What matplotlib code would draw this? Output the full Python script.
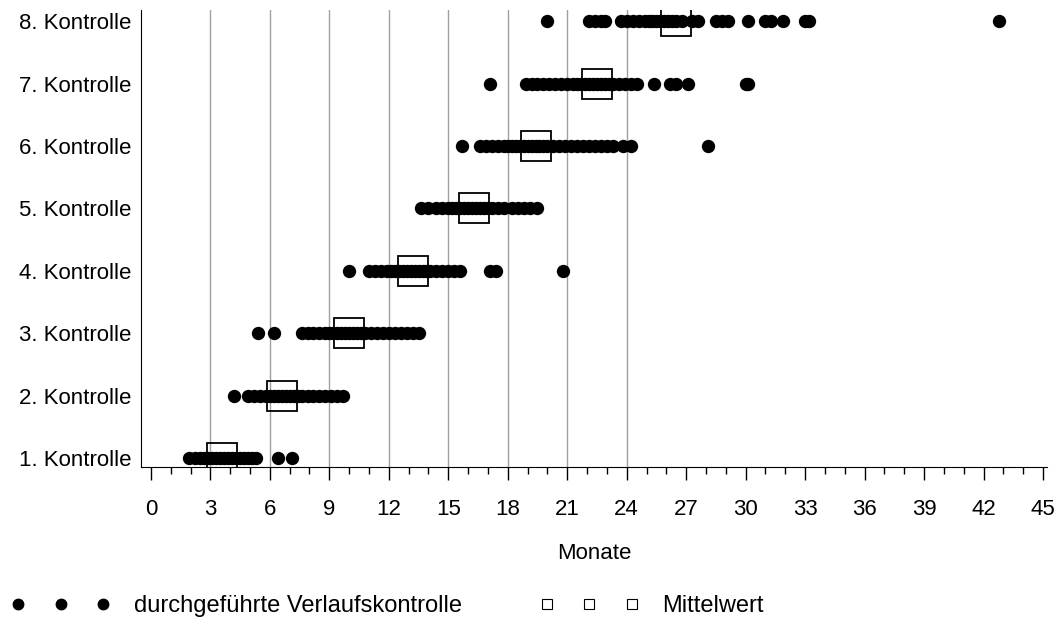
import numpy as np
import matplotlib
matplotlib.use("Agg")
import matplotlib.pyplot as plt
from matplotlib.lines import Line2D

plt.rcParams['font.family'] = ['Liberation Sans', 'DejaVu Sans']

# Monate bis zur jeweiligen Verlaufskontrolle
kontrolle_1 = [1.9, 2.2, 2.5, 2.7, 2.9, 3.1, 3.3, 3.5, 3.7, 3.9, 4.1, 4.3, 4.5, 4.7, 4.9, 5.1, 5.3, 6.4, 7.1]
kontrolle_2 = [4.2, 4.9, 5.2, 5.5, 5.8, 6.0, 6.2, 6.4, 6.6, 6.8, 7.0, 7.2, 7.4, 7.6, 7.9, 8.2, 8.5, 8.8, 9.1,
               9.4, 9.7]
kontrolle_3 = [5.4, 6.2, 7.6, 7.9, 8.2, 8.5, 8.8, 9.0, 9.2, 9.4, 9.6, 9.8, 10.0, 10.2, 10.4, 10.6, 10.8, 11.1,
               11.4, 11.7, 12.0, 12.3, 12.6, 12.9, 13.2, 13.5]
kontrolle_4 = [10.0, 11.0, 11.3, 11.6, 11.9, 12.1, 12.3, 12.5, 12.7, 12.9, 13.1, 13.3, 13.5, 13.7, 13.9, 14.1,
               14.4, 14.7, 15.0, 15.3, 15.6, 17.1, 17.4, 20.8]
kontrolle_5 = [13.6, 14.0, 14.4, 14.7, 15.0, 15.2, 15.4, 15.6, 15.8, 16.0, 16.2, 16.4, 16.6, 16.8, 17.0, 17.2,
               17.5, 17.8, 18.2, 18.5, 18.8, 19.1, 19.5]
kontrolle_6 = [15.7, 16.6, 16.9, 17.2, 17.5, 17.8, 18.0, 18.2, 18.4, 18.6, 18.8, 19.0, 19.2, 19.4, 19.6, 19.8,
               20.0, 20.3, 20.6, 20.9, 21.2, 21.5, 21.8, 22.1, 22.4, 22.7, 23.0, 23.3, 23.8, 24.2, 28.1]
kontrolle_7 = [17.1, 18.9, 19.2, 19.5, 19.8, 20.1, 20.4, 20.7, 21.0, 21.3, 21.5, 21.7, 21.9, 22.1, 22.3, 22.5,
               22.7, 22.9, 23.1, 23.3, 23.6, 23.9, 24.2, 24.5, 25.4, 26.2, 26.5, 27.1, 30.0, 30.1]
kontrolle_8 = [20.0, 22.1, 22.4, 22.7, 22.9, 23.7, 24.0, 24.3, 24.6, 24.9, 25.1, 25.3, 25.5, 25.7, 25.9, 26.1,
               26.3, 26.5, 26.8, 27.3, 27.6, 28.5, 28.8, 29.1, 30.1, 31.0, 31.3, 31.9, 33.0, 33.2, 42.8]

mittelwerte = [3.6, 6.6, 10.0, 13.2, 16.3, 19.4, 22.5, 26.5]
labels = ["1. Kontrolle", "2. Kontrolle", "3. Kontrolle", "4. Kontrolle",
          "5. Kontrolle", "6. Kontrolle", "7. Kontrolle", "8. Kontrolle"]
grid_monate = [3, 6, 9, 12, 15, 18, 21, 24]

kontrollen = [kontrolle_1, kontrolle_2, kontrolle_3, kontrolle_4,
              kontrolle_5, kontrolle_6, kontrolle_7, kontrolle_8]

fig = plt.figure(figsize=(10.56, 6.19), dpi=100)
ax = fig.add_axes([0.1335, 0.245, 0.858, 0.739])

for m in grid_monate:
    ax.axvline(m, color='#a0a0a0', lw=1, zorder=0)

for i, werte in enumerate(kontrollen):
    ax.plot(werte, [i + 1] * len(werte), 'o', color='black', ms=9.6, mew=0, zorder=2)

ax.plot(mittelwerte, np.arange(1, 9), 's', ms=21, mfc='none', mec='black', mew=1.3, zorder=3)

ax.set_xlim(-0.5, 45.2)
ax.set_ylim(0.85, 8.18)
ax.set_xticks(np.arange(0, 46, 3))
ax.set_xticks(np.arange(0, 46, 1), minor=True)
ax.set_yticks(np.arange(1, 9))
ax.set_yticklabels(labels)
ax.tick_params(axis='y', length=0, pad=7, labelsize=16)
ax.tick_params(axis='x', which='major', length=9, width=1, pad=14, labelsize=16)
ax.tick_params(axis='x', which='minor', length=5, width=1)
ax.spines['top'].set_visible(False)
ax.spines['right'].set_visible(False)
ax.set_xlabel("Monate", fontsize=16, labelpad=16)

handles = [Line2D([], [], ls='none', marker='o', color='black', ms=7.5),
           Line2D([], [], ls='none', marker='s', mfc='none', mec='black', ms=7.5, mew=0.8)]
fig.legend(handles, ["durchgeführte Verlaufskontrolle", "Mittelwert"], loc='lower left',
           bbox_to_anchor=(0.0015, -0.012), borderaxespad=0, ncol=2, frameon=False, numpoints=3,
           handlelength=4.2, handletextpad=1.0, columnspacing=3.3, fontsize=17)

fig.savefig("out.png", dpi=100)
